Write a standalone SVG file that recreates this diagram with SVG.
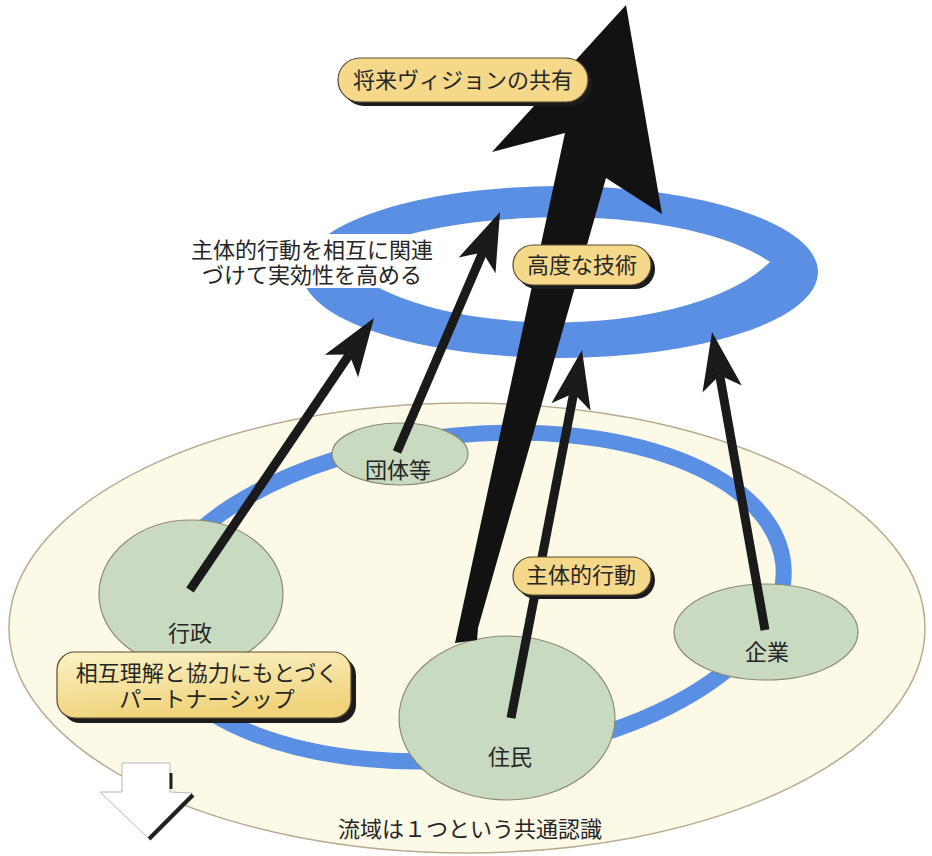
<svg xmlns="http://www.w3.org/2000/svg" width="932" height="856" viewBox="0 0 932 856">
<defs>
<style>
text{font-family:"Noto Sans CJK JP","Noto Sans CJK SC",sans-serif;font-size:22px;fill:#262626;text-anchor:middle}
.green{fill:#c8dac0;stroke:#8f8a70;stroke-width:1.2}
.tag{fill:#f5d88a;stroke:#5a4a30;stroke-width:1.2}
.shadow{fill:#1c1c1c}
.shaft{stroke:#1a1a1a;stroke-width:9;fill:none}
.head{fill:#1a1a1a}
.ring{fill:#5b8fe4}
</style>
<linearGradient id="boxg" x1="0" y1="0" x2="0.3" y2="1">
<stop offset="0" stop-color="#fbf2c6"/>
<stop offset="1" stop-color="#f0d37a"/>
</linearGradient>
</defs>
<rect width="932" height="856" fill="#ffffff"/>

<g id="basin">
<ellipse cx="467" cy="628" rx="458" ry="225" fill="#fcf9e6" stroke="#b9ab92" stroke-width="1.5"/>
</g>
<g id="partnership-ring">
<ellipse cx="467" cy="597" rx="318" ry="162" transform="rotate(-6 467 597)" fill="none" stroke="#5b8fe4" stroke-width="16"/>
</g>

<g id="node-dantai">
<ellipse class="green" cx="400" cy="454" rx="68" ry="31"/>
<text x="398" y="478">団体等</text>
</g>
<g id="node-gyosei">
<ellipse class="green" cx="191" cy="594" rx="92" ry="74"/>
<text x="190" y="641">行政</text>
</g>
<g id="node-kigyo">
<ellipse class="green" cx="766" cy="632" rx="92" ry="48"/>
<text x="767" y="660">企業</text>
</g>
<g id="node-jumin">
<ellipse class="green" cx="507" cy="718" rx="108" ry="82"/>
<text x="510" y="765">住民</text>
</g>

<g id="tech-ring">
<path class="ring" fill-rule="evenodd" d="M302 272 A258 86 0 1 0 818 272 A258 86 0 1 0 302 272 Z M340 262 C430 205 680 200 770 262 C690 340 430 345 340 262 Z"/>
</g>

<g id="relate-text">
<rect x="183" y="234" width="262" height="54" fill="#ffffff"/>
<text x="312" y="258"><tspan x="312" y="258">主体的行動を相互に関連</tspan><tspan x="312" y="283">づけて実効性を高める</tspan></text>
</g>

<g id="connectors">
<line class="shaft" x1="190" y1="590" x2="349.4" y2="354.4"/>
<polygon class="head" points="374,318 358.1,377.2 349.4,354.4 324.9,354.8"/>
<line class="shaft" x1="397" y1="452" x2="482.7" y2="252.4"/>
<polygon class="head" points="500,212 495.5,273.2 482.7,252.4 458.7,257.4"/>
<line class="shaft" x1="511" y1="718" x2="573.7" y2="393.2"/>
<polygon class="head" points="582,350 590.6,410.7 573.7,393.2 551.4,403.2"/>
<line class="shaft" x1="765" y1="630" x2="719.7" y2="375.3"/>
<polygon class="head" points="712,332 741.8,385.6 719.7,375.3 702.5,392.6"/>
<polygon fill="#121212" points="626,5 662,214 606,178 478,628 477,640 455,643 565,133 492,152"/>
</g>

<g id="tag-vision">
<rect class="shadow" x="342" y="62" width="250" height="44" rx="22"/>
<rect class="tag" x="338" y="58" width="250" height="44" rx="22"/>
<text x="463" y="88">将来ヴィジョンの共有</text>
</g>
<g id="tag-tech">
<rect class="shadow" x="517" y="249" width="138" height="40" rx="20"/>
<rect class="tag" x="513" y="245" width="138" height="40" rx="20"/>
<text x="582" y="273">高度な技術</text>
</g>
<g id="tag-action">
<rect class="shadow" x="517" y="561" width="138" height="38" rx="19"/>
<rect class="tag" x="513" y="557" width="138" height="38" rx="19"/>
<text x="581" y="583">主体的行動</text>
</g>
<g id="tag-partnership">
<rect class="shadow" x="62" y="657" width="294" height="66" rx="18"/>
<rect x="57" y="652" width="294" height="66" rx="18" fill="url(#boxg)" stroke="#5a4a30" stroke-width="1.2"/>
<text x="207" y="681"><tspan x="207" y="681">相互理解と協力にもとづく</tspan><tspan x="207" y="707">パートナーシップ</tspan></text>
</g>

<g id="down-arrow">
<polygon points="122,763 170,763 170,792 192,793 148,838 100,792 122,792" fill="#ffffff" stroke="#b8b8b8" stroke-width="1"/>
<line x1="171" y1="773" x2="171" y2="789" stroke="#222" stroke-width="3"/>
<line x1="193" y1="795" x2="149" y2="839" stroke="#222" stroke-width="4"/>
</g>

<g id="caption">
<text x="470" y="837">流域は１つという共通認識</text>
</g>
</svg>
